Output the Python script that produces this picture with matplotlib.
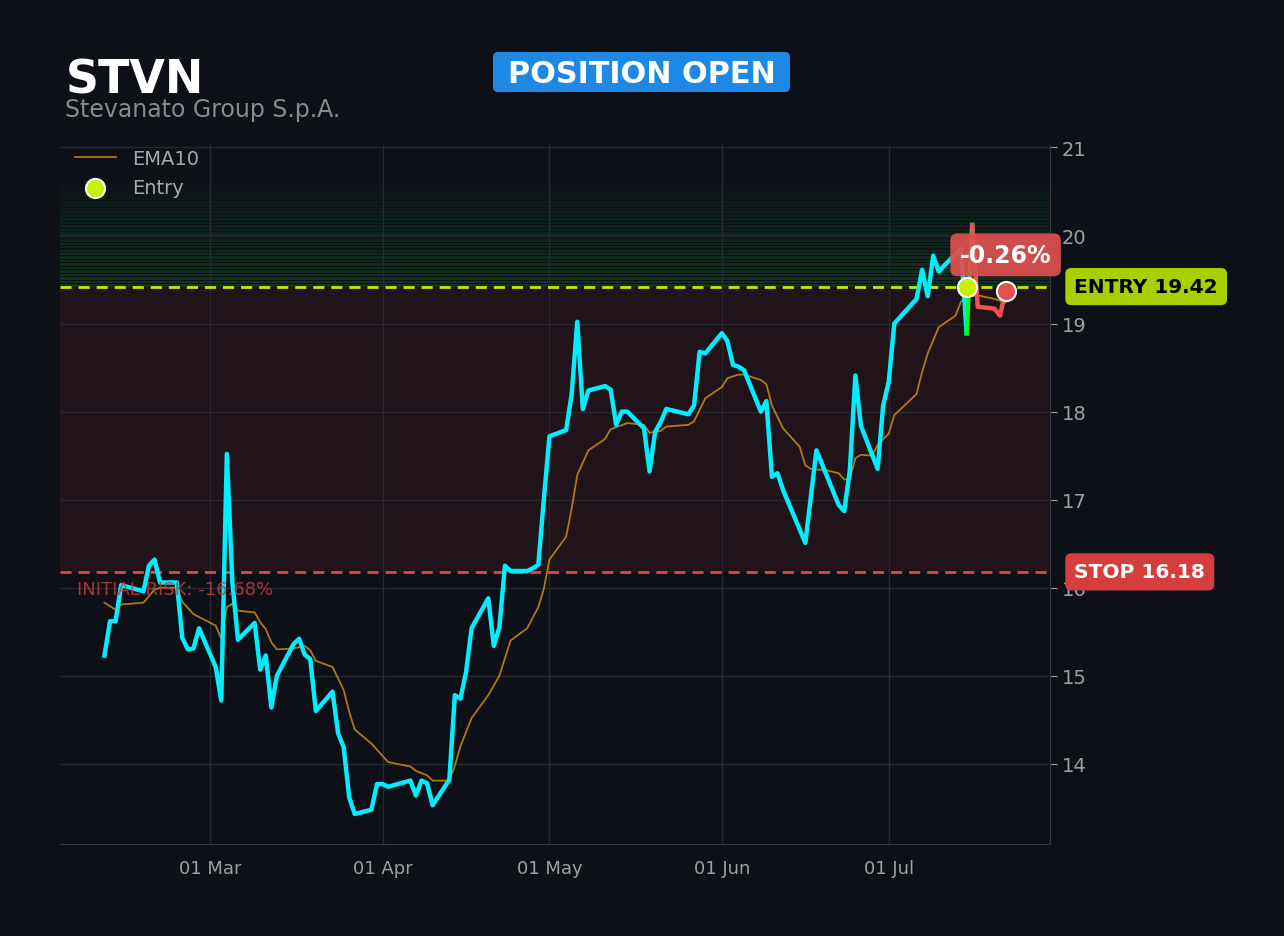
import matplotlib
matplotlib.use('Agg')
from matplotlib import pyplot as plt
from matplotlib.patches import FancyBboxPatch
import matplotlib.dates as mdates
import pandas as pd

# price
price_dates = ['2024-02-11', '2024-02-12', '2024-02-13', '2024-02-14', '2024-02-18', '2024-02-19',
               '2024-02-20', '2024-02-21', '2024-02-24', '2024-02-25', '2024-02-26', '2024-02-27',
               '2024-02-28', '2024-03-02', '2024-03-03', '2024-03-04', '2024-03-05', '2024-03-06',
               '2024-03-09', '2024-03-10', '2024-03-11', '2024-03-12', '2024-03-13', '2024-03-16',
               '2024-03-17', '2024-03-18', '2024-03-19', '2024-03-20', '2024-03-23', '2024-03-24',
               '2024-03-25', '2024-03-26', '2024-03-27', '2024-03-30', '2024-03-31', '2024-04-01',
               '2024-04-02', '2024-04-06', '2024-04-07', '2024-04-08', '2024-04-09', '2024-04-10',
               '2024-04-13', '2024-04-14', '2024-04-15', '2024-04-16', '2024-04-17', '2024-04-20',
               '2024-04-21', '2024-04-22', '2024-04-23', '2024-04-24', '2024-04-27', '2024-04-28',
               '2024-04-29', '2024-04-30', '2024-05-01', '2024-05-04', '2024-05-05', '2024-05-06',
               '2024-05-07', '2024-05-08', '2024-05-11', '2024-05-12', '2024-05-13', '2024-05-14',
               '2024-05-15', '2024-05-18', '2024-05-19', '2024-05-20', '2024-05-21', '2024-05-22',
               '2024-05-26', '2024-05-27', '2024-05-28', '2024-05-29', '2024-06-01', '2024-06-02',
               '2024-06-03', '2024-06-04', '2024-06-05', '2024-06-08', '2024-06-09', '2024-06-10',
               '2024-06-11', '2024-06-12', '2024-06-16', '2024-06-18', '2024-06-22', '2024-06-23',
               '2024-06-24', '2024-06-25', '2024-06-26', '2024-06-29', '2024-06-30', '2024-07-01',
               '2024-07-02', '2024-07-06', '2024-07-07', '2024-07-08', '2024-07-09', '2024-07-10',
               '2024-07-11', '2024-07-14', '2024-07-15']
price = [15.23, 15.62, 15.62, 16.03, 15.96, 16.25,
         16.32, 16.06, 16.06, 15.43, 15.30, 15.31,
         15.54, 15.10, 14.72, 17.52, 16.06, 15.41,
         15.60, 15.07, 15.23, 14.64, 15.00, 15.36,
         15.42, 15.24, 15.19, 14.60, 14.82, 14.35,
         14.19, 13.62, 13.43, 13.48, 13.77, 13.77,
         13.74, 13.81, 13.64, 13.81, 13.78, 13.53,
         13.82, 14.78, 14.74, 15.04, 15.54, 15.88,
         15.34, 15.55, 16.25, 16.19, 16.19, 16.22,
         16.26, 17.01, 17.72, 17.79, 18.20, 19.02,
         18.03, 18.24, 18.29, 18.25, 17.85, 18.00,
         18.00, 17.81, 17.32, 17.77, 17.88, 18.03,
         17.97, 18.07, 18.68, 18.66, 18.89, 18.80,
         18.53, 18.51, 18.47, 18.00, 18.12, 17.26,
         17.30, 17.11, 16.51, 17.56, 16.94, 16.87,
         17.33, 18.41, 17.84, 17.35, 18.07, 18.34,
         19.00, 19.28, 19.61, 19.31, 19.77, 19.59,
         19.66, 19.85, 18.89]

# price after entry
up_dates = ['2024-07-15', '2024-07-16']
up_price = [18.89, 20.12]
after_dates = ['2024-07-16', '2024-07-17', '2024-07-20', '2024-07-21', '2024-07-22']
after_price = [20.12, 19.19, 19.17, 19.09, 19.37]

ema_dates = ['2024-02-11', '2024-02-13', '2024-02-14', '2024-02-18', '2024-02-20', '2024-02-21',
             '2024-02-24', '2024-02-25', '2024-02-27', '2024-03-02', '2024-03-03', '2024-03-04',
             '2024-03-05', '2024-03-06', '2024-03-09', '2024-03-10', '2024-03-11', '2024-03-12',
             '2024-03-13', '2024-03-16', '2024-03-18', '2024-03-19', '2024-03-20', '2024-03-23',
             '2024-03-25', '2024-03-26', '2024-03-27', '2024-03-30', '2024-04-02', '2024-04-06',
             '2024-04-07', '2024-04-09', '2024-04-10', '2024-04-13', '2024-04-14', '2024-04-15',
             '2024-04-17', '2024-04-20', '2024-04-22', '2024-04-24', '2024-04-27', '2024-04-29',
             '2024-04-30', '2024-05-01', '2024-05-04', '2024-05-05', '2024-05-06', '2024-05-08',
             '2024-05-11', '2024-05-12', '2024-05-15', '2024-05-18', '2024-05-19', '2024-05-21',
             '2024-05-22', '2024-05-26', '2024-05-27', '2024-05-29', '2024-06-01', '2024-06-02',
             '2024-06-04', '2024-06-05', '2024-06-08', '2024-06-09', '2024-06-10', '2024-06-12',
             '2024-06-15', '2024-06-16', '2024-06-17', '2024-06-20', '2024-06-22', '2024-06-23',
             '2024-06-24', '2024-06-25', '2024-06-26', '2024-06-28', '2024-06-29', '2024-07-01',
             '2024-07-02', '2024-07-06', '2024-07-07', '2024-07-08', '2024-07-09', '2024-07-10',
             '2024-07-13', '2024-07-14', '2024-07-15', '2024-07-17', '2024-07-20', '2024-07-22']
ema10 = [15.83, 15.75, 15.81, 15.83, 15.98, 16.00,
         16.00, 15.84, 15.70, 15.57, 15.42, 15.78,
         15.82, 15.74, 15.72, 15.61, 15.53, 15.38,
         15.30, 15.31, 15.34, 15.29, 15.17, 15.10,
         14.84, 14.59, 14.39, 14.23, 14.02, 13.97,
         13.92, 13.87, 13.81, 13.81, 13.98, 14.20,
         14.52, 14.78, 15.00, 15.40, 15.54, 15.78,
         15.99, 16.32, 16.58, 16.90, 17.28, 17.56,
         17.69, 17.80, 17.87, 17.85, 17.76, 17.78,
         17.83, 17.85, 17.89, 18.15, 18.28, 18.38,
         18.42, 18.42, 18.36, 18.31, 18.07, 17.81,
         17.60, 17.39, 17.35, 17.33, 17.30, 17.23,
         17.23, 17.47, 17.51, 17.50, 17.62, 17.75,
         17.96, 18.20, 18.45, 18.66, 18.81, 18.96,
         19.09, 19.25, 19.31, 19.32, 19.28, 19.24]

entry_date = '2024-07-15'
entry = 19.42
stop = 16.18
target = 20.60
last_date = '2024-07-22'
last_price = 19.37
pnl_text = '-0.26%'
risk_text = 'INITIAL RISK: -16.68%'

bg = '#0d1017'
fig = plt.figure(figsize=(12.84, 9.37), dpi=100, facecolor=bg)
ax = fig.add_axes([0.0467, 0.0982, 0.7711, 0.7462])
ax.set_facecolor(bg)

pd_ = pd.to_datetime
# zones
ax.axhspan(stop, entry, color='#e04040', alpha=0.09, lw=0, zorder=0)
n = 30
step = (target - entry) / n
for i in range(n):
    lo = entry + i * step
    ax.axhspan(lo, lo + step * 0.7, color='#1f9a35', alpha=0.22 * (1 - i / n) + 0.03, lw=0, zorder=0)

ax.axhline(entry, color='#c8e600', ls='--', lw=2, dashes=(4, 2.5), zorder=3)
ax.axhline(stop, color='#e04848', ls='--', lw=2, dashes=(4, 2.5), zorder=3)

ax.plot(pd_(ema_dates), ema10, color='#b07810', lw=1.3, label='EMA10', zorder=4)
ax.plot(pd_(price_dates), price, color='#00eeff', lw=3.2, zorder=5)
ax.plot(pd_(up_dates), up_price, color='#00ff22', lw=3.2, zorder=5)
ax.plot(pd_(after_dates), after_price, color='#f05050', lw=3.2, zorder=5)

ax.scatter(pd_([entry_date]), [entry], s=190, color='#c8f000', edgecolor='white', linewidth=1.5,
           zorder=7, label='Entry')
ax.scatter(pd_([last_date]), [last_price], s=190, color='#e85050', edgecolor='white', linewidth=1.5,
           zorder=7)

ax.set_xlim(pd_('2024-02-03'), pd_('2024-07-30'))
ax.set_ylim(13.09, 21.03)
ax.yaxis.tick_right()
ax.set_yticks(range(14, 22))
ax.xaxis.set_major_formatter(mdates.DateFormatter('%d %b'))
ax.set_xticks(pd_(['2024-03-01', '2024-04-01', '2024-05-01', '2024-06-01', '2024-07-01']))
ax.tick_params(colors='#a0a0a0', labelsize=14, length=5)
ax.tick_params(axis='x', labelsize=13, length=0, pad=11)
ax.grid(color='#262a30', lw=1)
for s in ['left', 'top']:
    ax.spines[s].set_visible(False)
for s in ['right', 'bottom']:
    ax.spines[s].set_color('#33363c')

leg = ax.legend(loc='upper left', bbox_to_anchor=(0.011, 1.0), frameon=False, fontsize=14,
                labelcolor='#a8a8a8', borderaxespad=0.0, borderpad=0.2, handlelength=2.1,
                labelspacing=0.55, handletextpad=0.85)

# labels
ax.text(0.017, stop - 0.2, risk_text, transform=ax.get_yaxis_transform(), color='#c03a3a',
        fontsize=13, va='center', ha='left', alpha=0.85, zorder=6)
ax.annotate(f'ENTRY {entry:.2f}', xy=(1.0, entry), xycoords=ax.get_yaxis_transform(),
            xytext=(17.5, 0), textcoords='offset points', va='center', ha='left',
            fontsize=14.5, fontweight='bold', color='black',
            bbox=dict(boxstyle='round,pad=0.45,rounding_size=0.3', fc='#a8d000', ec='none'))
ax.annotate(f'STOP {stop:.2f}', xy=(1.0, stop), xycoords=ax.get_yaxis_transform(),
            xytext=(17.5, 0), textcoords='offset points', va='center', ha='left',
            fontsize=14.5, fontweight='bold', color='white',
            bbox=dict(boxstyle='round,pad=0.45,rounding_size=0.3', fc='#d63e3e', ec='none'))
ax.annotate(pnl_text, xy=(pd_(last_date), 19.78), xytext=(0, 0), textcoords='offset points',
            ha='center', va='center', fontsize=17, fontweight='bold', color='white', zorder=8,
            bbox=dict(boxstyle='round,pad=0.4,rounding_size=0.3', fc='#e05050', ec='none',
                      alpha=0.92),
            annotation_clip=False)

fig.text(0.051, 0.914, 'STVN', color='white', fontsize=33, fontweight='bold', va='center')
fig.text(0.051, 0.883, 'Stevanato Group S.p.A.', color='#8a8a8a', fontsize=17, va='center')
# status badge (box in inches)
badge = FancyBboxPatch((4.93, 8.44), 2.97, 0.40, boxstyle='round,pad=0,rounding_size=0.05',
                       transform=fig.dpi_scale_trans, fc='#1e88e5', ec='none')
fig.patches.append(badge)
fig.text(0.5, 0.921, 'POSITION OPEN', color='white', fontsize=21.8, fontweight='bold',
         ha='center', va='center')

fig.savefig('out.png', dpi=100, facecolor=bg)
